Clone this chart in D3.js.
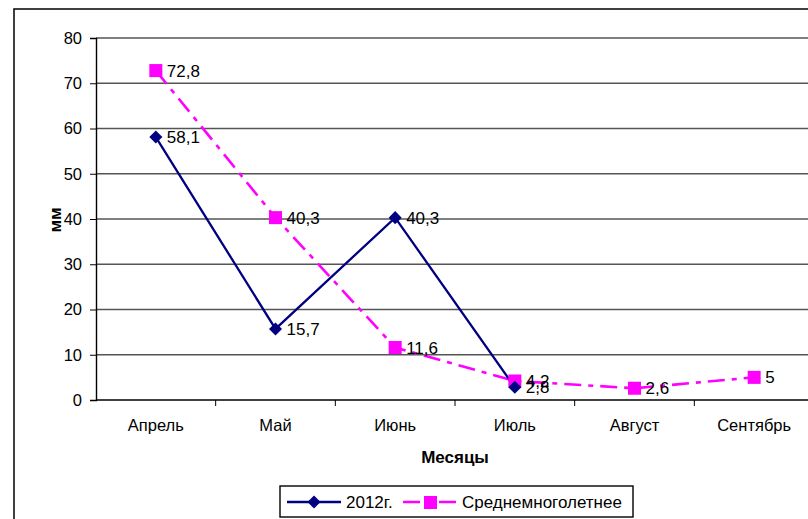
<!DOCTYPE html>
<html><head><meta charset="utf-8">
<script src="https://cdn.jsdelivr.net/npm/d3@7"></script>
<style>body{margin:0;background:#fff}svg{display:block;font-family:Arial,"Liberation Sans",sans-serif}</style>
</head><body>
<svg id="c" width="808" height="519"></svg>
<script>
const categories = ["Апрель","Май","Июнь","Июль","Август","Сентябрь"];
const series2012 = [58.1, 15.7, 40.3, 2.8, null, null];
const seriesAvg = [72.8, 40.3, 11.6, 4.2, 2.6, 5];
const labels2012 = ["58,1","15,7","40,3","2,8",null,null];
const labelsAvg = ["72,8","40,3","11,6","4,2","2,6","5"];
const yTicks = [0,10,20,30,40,50,60,70,80];
const seriesNames = ["2012г.","Среднемноголетнее"];

const svg = d3.select("#c");
const L = 96, R = 814, T = 38, B = 400;
const x = d3.scaleBand().domain(categories).range([L, R]);
const y = d3.scaleLinear().domain([0, 80]).range([B, T]);

svg.append("rect").attr("x",14).attr("y",9).attr("width",820).attr("height",530)
  .attr("fill","#fff").attr("stroke","#000").attr("stroke-width",1.5);

svg.append("g").selectAll("line").data(yTicks.filter(d=>d>0)).join("line")
  .attr("x1",L).attr("x2",R).attr("y1",d=>y(d)).attr("y2",d=>y(d))
  .attr("stroke","#555").attr("stroke-width",1.4);

const ya = svg.append("g").attr("transform",`translate(${L},0)`)
  .call(d3.axisLeft(y).tickValues(yTicks).tickSize(6).tickPadding(8));
ya.select(".domain").attr("stroke","#000").attr("stroke-width",1.4);
ya.selectAll(".tick line").attr("stroke","#000");
ya.selectAll("text").attr("font-size",16.5).attr("fill","#000").attr("font-family","Arial,'Liberation Sans',sans-serif");

const xa = svg.append("g").attr("transform",`translate(0,${B})`);
xa.append("line").attr("x1",L).attr("x2",R).attr("stroke","#000").attr("stroke-width",1.4);
xa.selectAll("line.t").data(categories.slice(1)).join("line").attr("class","t")
  .attr("x1",d=>x(d)).attr("x2",d=>x(d)).attr("y1",0).attr("y2",6).attr("stroke","#000");
xa.selectAll("text").data(categories).join("text")
  .attr("x",d=>x(d)+x.bandwidth()/2).attr("y",31).attr("text-anchor","middle")
  .attr("font-size",16.5).text(d=>d);

svg.append("text").attr("x",455).attr("y",463).attr("text-anchor","middle")
  .attr("font-size",17).attr("font-weight","bold").text("Месяцы");
svg.append("text").attr("transform","translate(61,220) rotate(-90)").attr("text-anchor","middle")
  .attr("font-size",17).attr("font-weight","bold").text("мм");

const cx = (i)=>x(categories[i])+x.bandwidth()/2;
const lineGen = d3.line().defined(d=>d.v!=null).x(d=>cx(d.i)).y(d=>y(d.v));
const d2012 = series2012.map((v,i)=>({v,i}));
const dAvg = seriesAvg.map((v,i)=>({v,i}));

svg.append("path").attr("d",lineGen(dAvg)).attr("fill","none").attr("stroke","#FF00FF")
  .attr("stroke-width",2.6).attr("stroke-dasharray","17,7,5,7");
svg.append("path").attr("d",lineGen(d2012)).attr("fill","none").attr("stroke","#000080")
  .attr("stroke-width",2.3);

svg.append("g").selectAll("rect").data(dAvg.filter(d=>d.v!=null)).join("rect")
  .attr("x",d=>cx(d.i)-6.5).attr("y",d=>y(d.v)-6.5).attr("width",13).attr("height",13).attr("fill","#FF00FF");
const diamond = d3.symbol().type(d3.symbolSquare).size(85);
svg.append("g").selectAll("path").data(d2012.filter(d=>d.v!=null)).join("path")
  .attr("d",diamond).attr("transform",d=>`translate(${cx(d.i)},${y(d.v)}) rotate(45)`).attr("fill","#000080");

svg.append("g").selectAll("text").data(dAvg.filter(d=>d.v!=null)).join("text")
  .attr("x",d=>cx(d.i)+11).attr("y",d=>y(d.v)+6).attr("font-size",17).text(d=>labelsAvg[d.i]);
svg.append("g").selectAll("text").data(d2012.filter(d=>d.v!=null)).join("text")
  .attr("x",d=>cx(d.i)+11).attr("y",d=>y(d.v)+6).attr("font-size",17).text(d=>labels2012[d.i]);

const lg = svg.append("g");
lg.append("rect").attr("x",280).attr("y",486).attr("width",353).attr("height",31)
  .attr("fill","#fff").attr("stroke","#000").attr("stroke-width",1.4);
lg.append("line").attr("x1",287).attr("x2",341).attr("y1",502).attr("y2",502).attr("stroke","#000080").attr("stroke-width",2.3);
lg.append("path").attr("d",diamond).attr("transform","translate(314,502) rotate(45)").attr("fill","#000080");
lg.append("text").attr("x",346).attr("y",508).attr("font-size",17).text(seriesNames[0]);
lg.append("line").attr("x1",403).attr("x2",458).attr("y1",502).attr("y2",502).attr("stroke","#FF00FF").attr("stroke-width",2.6).attr("stroke-dasharray","17,7,5,7");
lg.append("rect").attr("x",424).attr("y",496).attr("width",13).attr("height",13).attr("fill","#FF00FF");
lg.append("text").attr("x",462).attr("y",508).attr("font-size",17).text(seriesNames[1]);
</script>
</body></html>
